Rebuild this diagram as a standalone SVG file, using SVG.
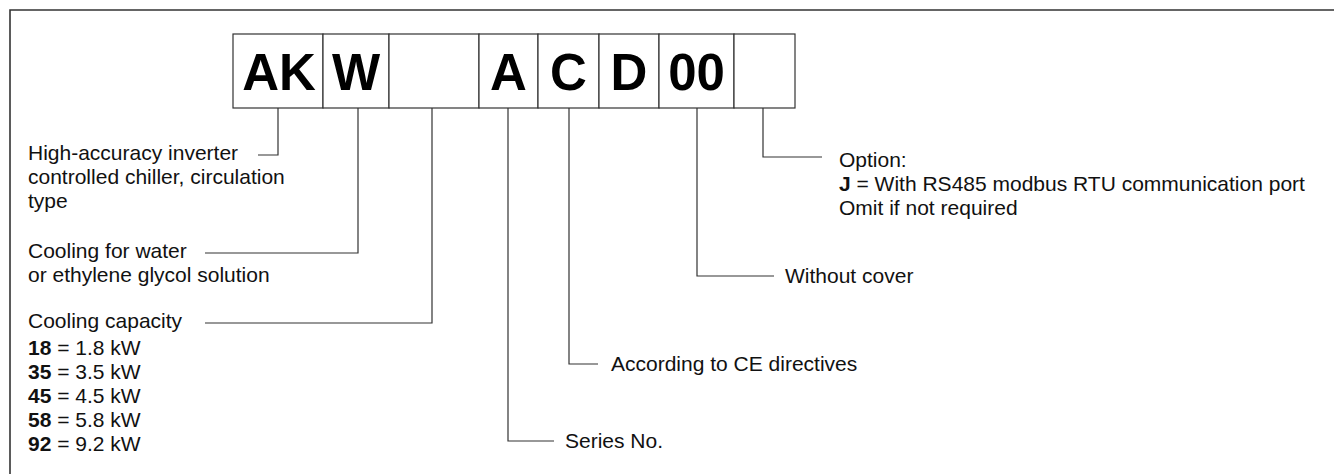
<svg xmlns="http://www.w3.org/2000/svg" width="1334" height="474" viewBox="0 0 1334 474">
<style>
.frame{fill:none;stroke:#333;stroke-width:1.6}
.box{fill:#fff;stroke:#333;stroke-width:1.2}
.code{font-family:"Liberation Sans",Arial,sans-serif;font-weight:bold;font-size:51px;fill:#000;text-anchor:middle}
.lbl{font-family:"Liberation Sans",Arial,sans-serif;font-size:21px;fill:#111}
.b{font-weight:bold}
.conn{fill:none;stroke:#333;stroke-width:1.2}
</style>
<path class="frame" d="M10,474 V10 H1334"/>
<g id="codes">
  <g id="box-AK"><rect class="box" x="233" y="34" width="90" height="74"/><text class="code" x="279" y="90">AK</text></g>
  <g id="box-W"><rect class="box" x="323" y="34" width="66" height="74"/><text class="code" x="356" y="90">W</text></g>
  <g id="box-cap"><rect class="box" x="389" y="34" width="90" height="74"/></g>
  <g id="box-A"><rect class="box" x="479" y="34" width="59" height="74"/><text class="code" x="508.5" y="90">A</text></g>
  <g id="box-C"><rect class="box" x="538" y="34" width="61" height="74"/><text class="code" x="568.5" y="90">C</text></g>
  <g id="box-D"><rect class="box" x="599" y="34" width="60" height="74"/><text class="code" x="629" y="90">D</text></g>
  <g id="box-00"><rect class="box" x="659" y="34" width="75" height="74"/><text class="code" x="696.5" y="90">00</text></g>
  <g id="box-opt"><rect class="box" x="734" y="34" width="61" height="74"/></g>
</g>
<g id="connectors">
  <path class="conn" d="M278,108 V155 H258"/>
  <path class="conn" d="M358,108 V253 H205"/>
  <path class="conn" d="M432,108 V323 H205"/>
  <path class="conn" d="M508,108 V441 H554"/>
  <path class="conn" d="M569,108 V364 H598"/>
  <path class="conn" d="M697,108 V276 H774"/>
  <path class="conn" d="M763,108 V157 H822"/>
</g>
<g id="label-type">
  <text class="lbl" x="28" y="160">High-accuracy inverter</text>
  <text class="lbl" x="28" y="184">controlled chiller, circulation</text>
  <text class="lbl" x="28" y="208">type</text>
</g>
<g id="label-cooling">
  <text class="lbl" x="28" y="258">Cooling for water</text>
  <text class="lbl" x="28" y="282">or ethylene glycol solution</text>
</g>
<g id="label-capacity">
  <text class="lbl" x="28" y="328">Cooling capacity</text>
  <text class="lbl" x="28" y="355"><tspan class="b">18</tspan> = 1.8 kW</text>
  <text class="lbl" x="28" y="379"><tspan class="b">35</tspan> = 3.5 kW</text>
  <text class="lbl" x="28" y="403"><tspan class="b">45</tspan> = 4.5 kW</text>
  <text class="lbl" x="28" y="427"><tspan class="b">58</tspan> = 5.8 kW</text>
  <text class="lbl" x="28" y="451"><tspan class="b">92</tspan> = 9.2 kW</text>
</g>
<g id="label-series"><text class="lbl" x="565" y="448">Series No.</text></g>
<g id="label-ce"><text class="lbl" x="611" y="371">According to CE directives</text></g>
<g id="label-cover"><text class="lbl" x="785" y="283">Without cover</text></g>
<g id="label-option">
  <text class="lbl" x="839" y="167">Option:</text>
  <text class="lbl" x="839" y="191"><tspan class="b">J</tspan> = With RS485 modbus RTU communication port</text>
  <text class="lbl" x="839" y="215">Omit if not required</text>
</g>
</svg>
